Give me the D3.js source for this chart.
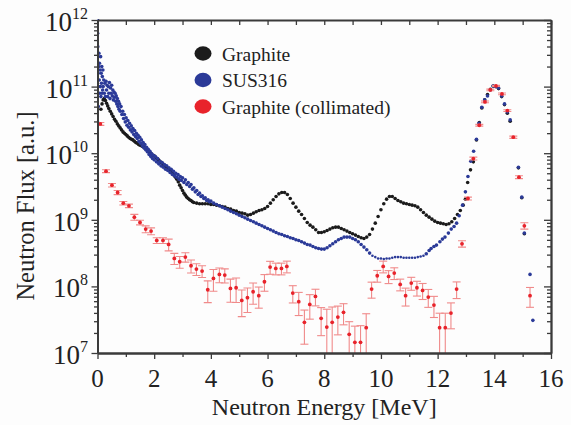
<!DOCTYPE html>
<html><head><meta charset="utf-8">
<script src="https://cdn.jsdelivr.net/npm/d3@7/dist/d3.min.js"></script>
<style>
html,body{margin:0;padding:0;background:#fff;}
svg{display:block;}
</style></head><body>
<svg id="chart" width="571" height="425"></svg>
<script>
// ---------- data (flux stored as log10 of value, a.u.) ----------
const xMajorTicks = [0, 2, 4, 6, 8, 10, 12, 14, 16];
const xMinorTicks = [1, 3, 5, 7, 9, 11, 13, 15];
const yDecadeExponents = [7, 8, 9, 10, 11, 12];
const legendLabels = ["Graphite", "SUS316", "Graphite (collimated)"];
const xTitle = "Neutron Energy [MeV]";
const yTitle = "Neutron Flux [a.u.]";

// Graphite: [energy MeV, log10 flux]
const graphiteLog10 = [[0.12,10.66],[0.16,10.74],[0.20,10.80],[0.24,10.82],[0.28,10.79],[0.32,10.75],[0.36,10.71],[0.40,10.67],[0.45,10.63],[0.50,10.59],[0.55,10.55],[0.60,10.51],[0.65,10.48],[0.70,10.44],[0.75,10.41],[0.80,10.38],[0.85,10.35],[0.90,10.32],[0.95,10.30],[1.00,10.28],[1.05,10.26],[1.10,10.24],[1.15,10.22],[1.20,10.21],[1.25,10.20],[1.30,10.18],[1.35,10.16],[1.40,10.15],[1.45,10.13],[1.50,10.12],[1.55,10.11],[1.60,10.10],[1.65,10.08],[1.70,10.07],[1.75,10.05],[1.80,10.03],[1.85,10.01],[1.90,9.99],[1.95,9.97],[2.00,9.96],[2.05,9.94],[2.10,9.92],[2.15,9.90],[2.20,9.88],[2.25,9.86],[2.30,9.84],[2.35,9.82],[2.40,9.80],[2.45,9.78],[2.50,9.76],[2.55,9.74],[2.60,9.72],[2.65,9.70],[2.70,9.67],[2.75,9.64],[2.80,9.61],[2.85,9.57],[2.90,9.52],[2.95,9.48],[3.00,9.44],[3.05,9.40],[3.10,9.37],[3.15,9.34],[3.20,9.32],[3.25,9.30],[3.30,9.29],[3.35,9.27],[3.40,9.26],[3.50,9.25],[3.60,9.24],[3.70,9.24],[3.80,9.24],[3.90,9.24],[4.00,9.23],[4.10,9.23],[4.20,9.22],[4.30,9.21],[4.40,9.20],[4.50,9.19],[4.60,9.17],[4.70,9.16],[4.80,9.14],[4.90,9.13],[5.00,9.11],[5.10,9.10],[5.20,9.09],[5.30,9.07],[5.40,9.08],[5.50,9.10],[5.60,9.12],[5.70,9.14],[5.80,9.15],[5.90,9.17],[6.00,9.20],[6.10,9.25],[6.20,9.30],[6.30,9.35],[6.40,9.39],[6.50,9.41],[6.60,9.41],[6.70,9.38],[6.80,9.32],[6.90,9.25],[7.00,9.19],[7.10,9.13],[7.20,9.08],[7.30,9.02],[7.40,8.96],[7.50,8.92],[7.60,8.89],[7.70,8.85],[7.80,8.81],[7.90,8.81],[8.00,8.82],[8.10,8.84],[8.20,8.86],[8.30,8.88],[8.40,8.89],[8.50,8.89],[8.60,8.87],[8.70,8.85],[8.80,8.83],[8.90,8.81],[9.00,8.79],[9.10,8.77],[9.20,8.75],[9.30,8.73],[9.40,8.72],[9.50,8.74],[9.60,8.78],[9.70,8.86],[9.80,8.95],[9.90,9.05],[10.00,9.15],[10.10,9.24],[10.20,9.31],[10.30,9.35],[10.40,9.35],[10.50,9.32],[10.60,9.29],[10.70,9.27],[10.80,9.25],[10.90,9.24],[11.00,9.23],[11.10,9.22],[11.20,9.21],[11.30,9.19],[11.40,9.15],[11.50,9.11],[11.60,9.07],[11.70,9.04],[11.80,9.01],[11.90,8.98],[12.00,8.96],[12.10,8.95],[12.20,8.94],[12.30,8.93],[12.40,8.94],[12.50,8.97],[12.60,9.02],[12.70,9.08],[12.80,9.14],[12.90,9.22],[12.98,9.31],[13.06,9.56],[13.16,9.75],[13.26,9.87],[13.37,10.20],[13.47,10.46],[13.56,10.68],[13.66,10.80],[13.76,10.88],[13.86,10.96],[13.96,11.01],[14.06,11.00],[14.15,10.97],[14.26,10.85],[14.36,10.73],[14.46,10.60],[14.56,10.48],[14.85,9.78],[14.97,9.33],[15.06,8.79]];

// SUS316: [energy MeV, log10 flux]
const sus316Log10 = [[0.00,12.00],[0.005,11.80],[0.01,11.60],[0.015,11.45],[0.02,11.20],[0.025,11.00],[0.03,10.70],[0.035,10.45],[0.04,11.30],[0.05,11.50],[0.06,11.10],[0.07,11.35],[0.08,10.90],[0.09,11.25],[0.10,11.00],[0.11,11.45],[0.12,10.85],[0.13,11.20],[0.14,11.05],[0.15,11.30],[0.16,10.90],[0.17,11.15],[0.18,10.95],[0.19,11.25],[0.20,11.00],[0.22,11.10],[0.24,10.90],[0.26,11.05],[0.28,10.85],[0.30,11.08],[0.32,10.95],[0.34,11.02],[0.36,10.85],[0.38,11.00],[0.40,10.90],[0.42,11.06],[0.44,10.82],[0.46,10.98],[0.48,10.90],[0.50,11.02],[0.52,10.86],[0.54,10.95],[0.56,10.80],[0.58,10.92],[0.60,10.84],[0.62,10.90],[0.64,10.78],[0.66,10.86],[0.68,10.74],[0.70,10.82],[0.72,10.70],[0.74,10.78],[0.76,10.66],[0.78,10.74],[0.80,10.63],[0.83,10.70],[0.86,10.58],[0.89,10.63],[0.92,10.52],[0.95,10.58],[0.98,10.47],[1.01,10.53],[1.04,10.42],[1.07,10.49],[1.10,10.39],[1.13,10.45],[1.16,10.35],[1.19,10.41],[1.22,10.32],[1.25,10.37],[1.28,10.28],[1.31,10.34],[1.34,10.25],[1.37,10.30],[1.40,10.22],[1.43,10.27],[1.46,10.18],[1.49,10.24],[1.52,10.15],[1.55,10.20],[1.58,10.11],[1.61,10.16],[1.64,10.08],[1.67,10.13],[1.70,10.05],[1.73,10.09],[1.76,10.02],[1.79,10.06],[1.82,9.98],[1.85,10.03],[1.88,9.95],[1.91,9.99],[1.94,9.92],[1.97,9.97],[2.00,9.90],[2.04,9.95],[2.08,9.87],[2.12,9.92],[2.16,9.84],[2.20,9.88],[2.24,9.81],[2.28,9.86],[2.32,9.79],[2.36,9.83],[2.40,9.76],[2.44,9.81],[2.48,9.74],[2.52,9.78],[2.56,9.71],[2.60,9.76],[2.64,9.68],[2.68,9.73],[2.72,9.66],[2.76,9.70],[2.80,9.64],[2.84,9.68],[2.88,9.61],[2.92,9.65],[2.96,9.59],[3.00,9.63],[3.05,9.56],[3.10,9.60],[3.15,9.53],[3.20,9.56],[3.25,9.50],[3.30,9.53],[3.35,9.46],[3.40,9.48],[3.45,9.42],[3.50,9.44],[3.55,9.38],[3.60,9.40],[3.65,9.35],[3.70,9.36],[3.75,9.32],[3.80,9.33],[3.85,9.29],[3.90,9.30],[3.95,9.27],[4.00,9.28],[4.10,9.25],[4.20,9.23],[4.30,9.21],[4.40,9.19],[4.50,9.17],[4.60,9.15],[4.70,9.13],[4.80,9.11],[4.90,9.09],[5.00,9.07],[5.10,9.05],[5.20,9.03],[5.30,9.01],[5.40,8.99],[5.50,8.97],[5.60,8.95],[5.70,8.93],[5.80,8.91],[5.90,8.89],[6.00,8.87],[6.10,8.85],[6.20,8.83],[6.30,8.81],[6.40,8.79],[6.50,8.78],[6.60,8.76],[6.70,8.75],[6.80,8.73],[6.90,8.72],[7.00,8.70],[7.10,8.69],[7.20,8.67],[7.30,8.65],[7.40,8.63],[7.50,8.62],[7.60,8.60],[7.70,8.58],[7.80,8.57],[7.90,8.56],[8.00,8.56],[8.10,8.58],[8.20,8.61],[8.30,8.64],[8.40,8.67],[8.50,8.70],[8.60,8.72],[8.70,8.74],[8.80,8.74],[8.90,8.74],[9.00,8.72],[9.10,8.70],[9.20,8.67],[9.30,8.63],[9.40,8.59],[9.50,8.55],[9.60,8.50],[9.70,8.46],[9.80,8.44],[9.90,8.42],[10.00,8.42],[10.10,8.41],[10.20,8.42],[10.30,8.42],[10.40,8.43],[10.50,8.44],[10.60,8.44],[10.70,8.44],[10.80,8.43],[10.90,8.43],[11.00,8.43],[11.10,8.43],[11.20,8.43],[11.30,8.44],[11.40,8.45],[11.50,8.46],[11.60,8.49],[11.70,8.54],[11.77,8.57],[11.87,8.60],[11.96,8.62],[12.08,8.67],[12.17,8.71],[12.26,8.74],[12.38,8.80],[12.48,8.86],[12.58,8.90],[12.67,8.95],[12.76,9.06],[12.88,9.22],[12.98,9.42],[13.07,9.65],[13.17,9.88],[13.27,10.03],[13.37,10.21],[13.46,10.45],[13.56,10.69],[13.66,10.80],[13.76,10.86],[13.86,10.95],[13.96,11.01],[14.06,11.00],[14.15,10.98],[14.26,10.86],[14.36,10.74],[14.46,10.62],[14.56,10.50],[14.85,9.79],[14.97,9.34],[15.06,8.80],[15.26,8.18],[15.36,7.49]];

// Graphite (collimated), with relative error
const collimatedEnergy = [0.10,0.30,0.51,0.71,0.91,1.11,1.30,1.50,1.70,1.89,2.09,2.31,2.51,2.71,2.90,3.10,3.30,3.49,3.69,3.89,4.09,4.30,4.49,4.69,4.89,5.09,5.29,5.49,5.69,5.89,6.09,6.29,6.49,6.68,6.89,7.10,7.30,7.49,7.69,7.89,8.09,8.28,8.48,8.68,8.88,9.08,9.28,9.48,9.67,9.87,10.08,10.27,10.47,10.68,10.87,11.07,11.27,11.47,11.67,11.87,12.07,12.27,12.47,12.67,12.86,13.07,13.26,13.47,13.67,13.86,14.06,14.27,14.46,14.67,14.87,15.06,15.26];
const collimatedLog10 = [10.44,9.73,9.52,9.41,9.25,9.21,9.04,8.96,8.86,8.83,8.69,8.69,8.63,8.42,8.37,8.44,8.31,8.26,8.23,7.95,8.12,8.18,8.17,7.97,7.98,7.79,7.83,7.92,7.86,8.07,8.29,8.27,8.27,8.30,7.90,7.77,7.46,7.73,7.85,7.52,7.39,7.46,7.54,7.61,7.28,7.16,7.16,7.38,7.96,8.16,8.30,8.15,8.20,8.03,7.86,8.05,7.98,7.94,7.84,7.72,7.38,7.38,7.60,7.96,8.64,9.32,9.92,10.42,10.77,10.95,11.01,10.89,10.64,10.24,9.64,8.91,7.86];
const collimatedRelErr = [0.05,0.05,0.06,0.07,0.06,0.06,0.10,0.08,0.12,0.12,0.10,0.10,0.20,0.19,0.20,0.16,0.22,0.20,0.20,0.36,0.36,0.25,0.24,0.38,0.40,0.43,0.40,0.35,0.35,0.28,0.22,0.20,0.20,0.20,0.29,0.38,0.53,0.40,0.28,0.45,0.85,0.70,0.46,0.35,0.55,0.75,0.78,0.62,0.27,0.20,0.20,0.22,0.20,0.20,0.30,0.22,0.25,0.27,0.30,0.35,0.65,0.65,0.42,0.28,0.11,0.05,0.05,0.03,0.03,0.03,0.02,0.03,0.03,0.04,0.05,0.11,0.33];

// ---------- drawing ----------
(function () {
const FONT = "Liberation Serif";
const colors = {graphite: "#1b1b1b", sus: "#2b3a98", coll: "#e8232b", err: "#f08a8a", axis: "#3a3a3a", text: "#222"};
const svg = d3.select("#chart");
const W = 571, H = 425;
svg.append("rect").attr("width", W).attr("height", H).attr("fill", "#fdfdfd");

const pL = 97.5, pR = 551, pT = 20, pB = 353;
const x = d3.scaleLinear().domain([0, 16]).range([pL, pR]);
const y = d3.scaleLog().domain([1e7, 1e12]).range([pB, pT]).clamp(true);

svg.append("defs").append("clipPath").attr("id", "plotclip")
  .append("rect").attr("x", pL).attr("y", pT - 1).attr("width", pR - pL).attr("height", pB - pT + 1);

const gData = svg.append("g").attr("clip-path", "url(#plotclip)");

gData.append("g").selectAll("circle").data(graphiteLog10).join("circle")
  .attr("cx", d => x(d[0])).attr("cy", d => y(Math.pow(10, d[1])))
  .attr("r", 1.8).attr("fill", colors.graphite);

gData.append("g").selectAll("circle").data(sus316Log10).join("circle")
  .attr("cx", d => x(d[0])).attr("cy", d => y(Math.pow(10, d[1])))
  .attr("r", d => d[0] > 9.6 && d[0] < 11.6 ? 1.3 : 1.8).attr("fill", colors.sus);

const coll = collimatedEnergy.map((e, i) => {
  const v = Math.pow(10, collimatedLog10[i]);
  return {e, v, lo: v * (1 - collimatedRelErr[i]), hi: v * (1 + collimatedRelErr[i])};
});
const gErr = gData.append("g").attr("stroke", colors.err).attr("stroke-width", 1.1).attr("fill", "none");
coll.forEach(d => {
  const cx = x(d.e);
  gErr.append("line").attr("x1", cx).attr("x2", cx).attr("y1", y(d.lo)).attr("y2", y(d.hi));
  gErr.append("line").attr("x1", cx - 4).attr("x2", cx + 4).attr("y1", y(d.hi)).attr("y2", y(d.hi));
  if (d.lo > 1e7) gErr.append("line").attr("x1", cx - 4).attr("x2", cx + 4).attr("y1", y(d.lo)).attr("y2", y(d.lo));
});
gData.append("g").selectAll("circle").data(coll).join("circle")
  .attr("cx", d => x(d.e)).attr("cy", d => y(d.v)).attr("r", 1.9).attr("fill", colors.coll);

// ---------- axes ----------
const minorY = [];
yDecadeExponents.slice(0, -1).forEach(k => { for (let m = 2; m <= 9; m++) minorY.push(m * Math.pow(10, k)); });
const majorY = yDecadeExponents.map(k => Math.pow(10, k));
const allX = xMajorTicks.concat(xMinorTicks);

function styleAxis(g) {
  g.selectAll("path").attr("stroke", colors.axis).attr("stroke-width", 1.8);
  g.selectAll("line").attr("stroke", colors.axis).attr("stroke-width", 1.3);
  g.selectAll("text").remove();
}
svg.append("g").attr("transform", `translate(0,${pB})`)
  .call(d3.axisBottom(x).tickValues(xMajorTicks).tickSizeInner(6).tickSizeOuter(0)).call(styleAxis);
svg.append("g").attr("transform", `translate(0,${pB})`)
  .call(d3.axisBottom(x).tickValues(xMinorTicks).tickSizeInner(4).tickSizeOuter(0)).call(styleAxis);
svg.append("g").attr("transform", `translate(0,${pT})`)
  .call(d3.axisTop(x).tickValues(allX).tickSizeInner(-5).tickSizeOuter(0)).call(styleAxis);
svg.append("g").attr("transform", `translate(${pL},0)`)
  .call(d3.axisLeft(y).tickValues(majorY).tickSizeInner(6).tickSizeOuter(0)).call(styleAxis);
svg.append("g").attr("transform", `translate(${pL},0)`)
  .call(d3.axisLeft(y).tickValues(minorY).tickSizeInner(3.5).tickSizeOuter(0)).call(styleAxis);
svg.append("g").attr("transform", `translate(${pR},0)`)
  .call(d3.axisRight(y).tickValues(majorY).tickSizeInner(-7).tickSizeOuter(0)).call(styleAxis);
svg.append("g").attr("transform", `translate(${pR},0)`)
  .call(d3.axisRight(y).tickValues(minorY).tickSizeInner(-4).tickSizeOuter(0)).call(styleAxis);

svg.append("g").selectAll("text").data(xMajorTicks).join("text")
  .attr("font-family", FONT)
  .attr("x", d => x(d)).attr("y", 387).attr("text-anchor", "middle")
  .attr("font-size", 25).attr("fill", colors.text).text(d => d);

const yl = svg.append("g").selectAll("text").data(yDecadeExponents).join("text")
  .attr("font-family", FONT)
  .attr("x", 88).attr("y", d => y(Math.pow(10, d)) + 11).attr("text-anchor", "end")
  .attr("font-size", 27).attr("fill", colors.text);
yl.append("tspan").text("10");
yl.append("tspan").attr("dy", -12).attr("font-size", 16).text(d => d);

svg.append("text").attr("font-family", FONT).attr("x", (pL + pR) / 2).attr("y", 415).attr("text-anchor", "middle")
  .attr("font-size", 24).attr("fill", colors.text).text(xTitle);
svg.append("text").attr("font-family", FONT).attr("transform", "translate(34,206) rotate(-90)").attr("text-anchor", "middle")
  .attr("font-size", 24.5).attr("fill", colors.text).text(yTitle);

const legColors = [colors.graphite, colors.sus, colors.coll];
const legY = [53.5, 80, 106.5];
legendLabels.forEach((lab, i) => {
  svg.append("ellipse").attr("cx", 203).attr("cy", legY[i]).attr("rx", 8.5).attr("ry", 7.2).attr("fill", legColors[i]);
  svg.append("text").attr("font-family", FONT).attr("x", 222).attr("y", legY[i] + 7).attr("font-size", 19.5).attr("fill", colors.text).text(lab);
});
})();
</script>
</body></html>
